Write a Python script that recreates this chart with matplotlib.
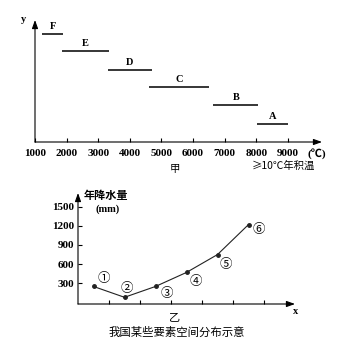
import matplotlib
matplotlib.use('Agg')
import matplotlib.pyplot as plt

# %% data
# top chart: accumulated temperature ranges (>=10 C) of zones A-F
zones = ['F', 'E', 'D', 'C', 'B', 'A']
t_start = [1230, 1870, 3300, 4620, 6640, 8040]
t_end = [1900, 3330, 4700, 6500, 8070, 9000]
zone_y = [108, 91, 72, 55, 37, 18]          # no scale on the y axis
temp_ticks = [1000, 2000, 3000, 4000, 5000, 6000, 7000, 8000, 9000]

# bottom chart: annual precipitation at points 1-6
pts = ['①', '②', '③', '④', '⑤', '⑥']
pt_x = [0.5, 1.5, 2.5, 3.5, 4.5, 5.5]
rain = [250, 80, 250, 470, 750, 1220]
rain_ticks = [300, 600, 900, 1200, 1500]
x_ticks = [1, 2, 3, 4, 5, 6]

num_font = ['Liberation Serif', 'Noto Sans CJK SC']
cjk_font = ['Noto Sans CJK SC', 'DejaVu Sans']
W = H = 351.0


def box(l, t, r, b):
    # pixel box -> figure fraction
    return [l / W, 1 - b / H, (r - l) / W, (b - t) / H]


def arrow_axes(ax):
    for s in ax.spines.values():
        s.set_visible(False)
    kw = dict(arrowstyle='-|>,head_length=0.5,head_width=0.18', color='black', lw=0.8,
              shrinkA=0, shrinkB=0)
    ax.annotate('', xy=(1, 0), xytext=(0, 0), xycoords='axes fraction', arrowprops=kw)
    ax.annotate('', xy=(0, 1), xytext=(0, 0), xycoords='axes fraction', arrowprops=kw)


fig = plt.figure(figsize=(3.51, 3.51), dpi=100)

# %% top chart
ax1 = fig.add_axes(box(35, 20, 322, 142))
ax1.set_xlim(1000, 1000 + (322 - 35) / 31.6 * 1000)
ax1.set_ylim(0, 122)
arrow_axes(ax1)
ax1.hlines(zone_y, t_start, t_end, colors='black', lw=1.1)
for name, a, b, y in zip(zones, t_start, t_end, zone_y):
    ax1.text((a + b) / 2, y + 3, name, ha='center', va='bottom', fontsize=7.5,
             fontweight='bold', family=num_font)
ax1.set_xticks(temp_ticks)
ax1.set_xticklabels([str(t) for t in temp_ticks])
ax1.tick_params(axis='x', direction='in', length=3, width=0.8, pad=5, labelsize=8)
for lab in ax1.get_xticklabels():
    lab.set_family(num_font)
    lab.set_fontweight('bold')
ax1.get_xticklabels()[0].set_x(800)
ax1.set_yticks([])
ax1.text(9000 + 620, -6.5, '(℃)', ha='left', va='top', fontsize=8, fontweight='bold',
         family=num_font)
ax1.text(-0.03, 1.0, 'y', transform=ax1.transAxes, ha='right', va='center', fontsize=7.5,
         fontweight='bold', family=num_font)
fig.text(175 / W, 1 - 169 / H, '甲', ha='center', va='center', fontsize=7.5, family=cjk_font)
fig.text(283 / W, 1 - 166 / H, '≥10℃年积温', ha='center', va='center', fontsize=7.5,
         family=cjk_font)

# %% bottom chart
ax2 = fig.add_axes(box(78, 193, 295, 304))
ax2.set_xlim(0, 7)
ax2.set_ylim(-25, 1715)
arrow_axes(ax2)
ax2.plot(pt_x, rain, color='#222222', lw=0.8, marker='o', markersize=2.5)
label_dx = [0.32, 0.07, 0.36, 0.31, 0.27, 0.35]
label_dy = [128, 141, -118, -145, -153, -85]
for p, x, r, dx, dy in zip(pts, pt_x, rain, label_dx, label_dy):
    ax2.text(x + dx, r + dy, p, ha='center', va='center', fontsize=9, family=cjk_font)
ax2.set_xticks(x_ticks)
ax2.set_xticklabels([])
ax2.set_yticks(rain_ticks)
ax2.set_yticklabels([str(v) for v in rain_ticks])
ax2.tick_params(direction='in', length=3, width=0.8, labelsize=8, pad=3)
for lab in ax2.get_yticklabels():
    lab.set_family(num_font)
    lab.set_fontweight('bold')
fig.text(106 / W, 1 - 196 / H, '年降水量', ha='center', va='center', fontsize=8,
         fontweight='bold', family=cjk_font)
fig.text(108 / W, 1 - 209 / H, '(mm)', ha='center', va='center', fontsize=7.5,
         fontweight='bold', family=num_font)
fig.text(296 / W, 1 - 312 / H, 'x', ha='center', va='center', fontsize=7.5,
         fontweight='bold', family=num_font)
fig.text(175 / W, 1 - 317 / H, '乙', ha='center', va='center', fontsize=8, family=cjk_font)
fig.text(177 / W, 1 - 332 / H, '我国某些要素空间分布示意', ha='center', va='center',
         fontsize=8.2, family=cjk_font)

plt.savefig('out.png', dpi=100)
plt.close('all')
